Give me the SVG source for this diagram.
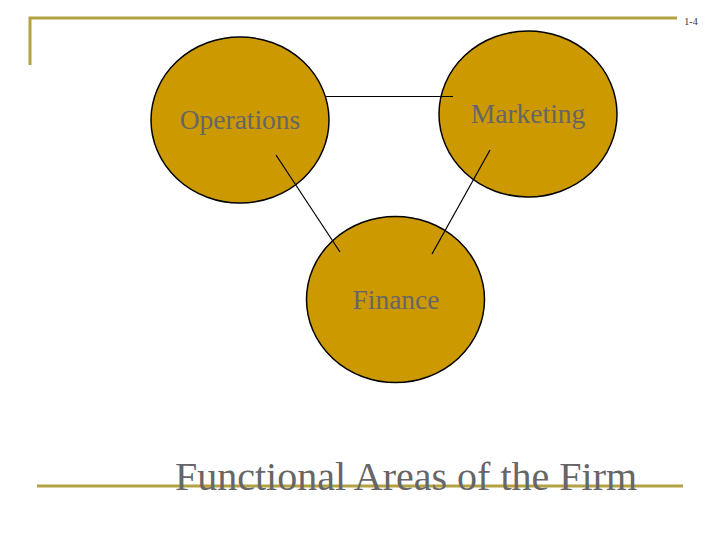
<svg xmlns="http://www.w3.org/2000/svg" width="720" height="540" viewBox="0 0 720 540">
<style>
.frame{stroke:#B3A244;stroke-width:3;fill:none}
.node{fill:#CC9900;stroke:#000;stroke-width:1.5}
.lbl{font-family:"Liberation Serif",serif;font-size:27.5px;fill:#666;text-anchor:middle}
.conn{stroke:#000;stroke-width:1.2;fill:none}
</style>
<rect width="720" height="540" fill="#fff"/>
<polyline class="frame" points="30,65 30,18 677,18"/>
<line class="frame" x1="37" y1="486" x2="683" y2="486"/>
<text x="691" y="25" font-family="Liberation Serif,serif" font-size="10" fill="#333" text-anchor="middle">1-4</text>
<g id="operations"><ellipse class="node" cx="240" cy="120" rx="89" ry="83"/><text class="lbl" x="240" y="129">Operations</text></g>
<g id="marketing"><ellipse class="node" cx="528" cy="114" rx="89" ry="83"/><text class="lbl" x="528" y="123">Marketing</text></g>
<g id="finance"><ellipse class="node" cx="395.5" cy="299.5" rx="89" ry="83"/><text class="lbl" x="396" y="309">Finance</text></g>
<g id="connectors">
<line class="conn" x1="326" y1="96.5" x2="453" y2="96.5"/>
<line class="conn" x1="276" y1="155" x2="340" y2="252"/>
<line class="conn" x1="490" y1="150" x2="432" y2="254"/>
</g>
<text x="406" y="490" font-family="Liberation Serif,serif" font-size="40" fill="#666" text-anchor="middle">Functional Areas of the Firm</text>
</svg>
